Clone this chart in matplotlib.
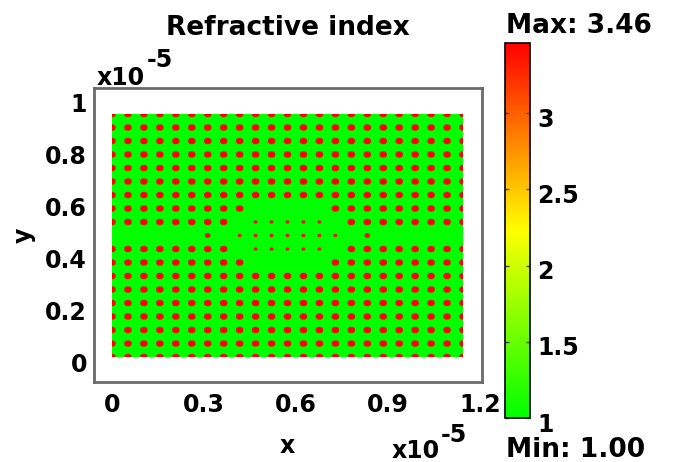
import numpy as np
import matplotlib
matplotlib.use("Agg")
import matplotlib.pyplot as plt
from matplotlib.colors import LinearSegmentedColormap
from matplotlib.transforms import ScaledTranslation

# ---------------- data ----------------
lattice_const_um = 0.52          # square lattice constant (micrometres)
n_cols = 23                      # rods along x
n_rows = 19                      # rods along y
rod_radius_um = 0.125
small_radius_um = 0.065
medium_radius_um = 0.09
n_background = 1.00
n_rod = 3.46

# defects, rows counted from the top of the picture
missing_rods = {
    7: [9, 10, 11, 12, 13],
    8: [8, 14],
    9: [0, 1, 2, 3, 4, 5, 7, 15, 17, 18, 19, 20, 21, 22],
    10: [8, 14],
    11: [9, 10, 11, 12, 13],
}
small_rods = {
    8: [9, 10, 11, 12, 13],
    9: [8, 9, 10, 11, 12, 13, 14],
    10: [9, 10, 11, 12, 13],
}
medium_rods = {9: [6, 16]}

x_ticks = [0, 0.3, 0.6, 0.9, 1.2]
x_ticklabels = ["0", "0.3", "0.6", "0.9", "1.2"]
y_ticks = [0, 0.2, 0.4, 0.6, 0.8, 1.0]
y_ticklabels = ["0", "0.2", "0.4", "0.6", "0.8", "1"]
cbar_ticks = [1, 1.5, 2, 2.5, 3]
cbar_ticklabels = ["1", "1.5", "2", "2.5", "3"]

# ---------------- index map ----------------
res = 0.01
W = (n_cols - 1) * lattice_const_um
H = (n_rows - 1) * lattice_const_um
xs = np.arange(res / 2, W, res)
ys = np.arange(res / 2, H, res)
nmap = np.full((len(ys), len(xs)), n_background)

for row in range(n_rows):
    for col in range(n_cols):
        if col in missing_rods.get(row, []):
            continue
        r = rod_radius_um
        if col in small_rods.get(row, []):
            r = small_radius_um
        elif col in medium_rods.get(row, []):
            r = medium_radius_um
        cx = col * lattice_const_um
        cy = H - row * lattice_const_um
        ix = np.where(np.abs(xs - cx) <= r)[0]
        iy = np.where(np.abs(ys - cy) <= r)[0]
        if len(ix) == 0 or len(iy) == 0:
            continue
        X, Y = np.meshgrid(xs[ix], ys[iy])
        mask = (X - cx) ** 2 + (Y - cy) ** 2 <= r ** 2
        sub = nmap[iy[0]:iy[-1] + 1, ix[0]:ix[-1] + 1]
        sub[mask] = n_rod

cmap = LinearSegmentedColormap.from_list("gyr", ["#00ff00", "#ffff00", "#ff0000"])

# ---------------- figure ----------------
FW, FH = 681, 462
fig = plt.figure(figsize=(FW / 100, FH / 100), dpi=100)
plt.rcParams["font.family"] = ["DejaVu Sans"]
plt.rcParams["font.weight"] = "bold"

ax = fig.add_axes([94 / FW, 1 - 382 / FH, (482 - 94) / FW, (382 - 88) / FH])
unit = 10.0  # micrometres per 1e-5 m
im = ax.imshow(nmap, origin="lower", cmap=cmap, vmin=n_background, vmax=n_rod,
               extent=[0, W / unit, 0, H / unit], interpolation="antialiased",
               interpolation_stage="rgba", aspect="auto")

px_x = 306.5   # pixels per 1e-5 m along x
px_y = 259.6   # pixels per 1e-5 m along y
ax.set_xlim((94 - 112) / px_x, (482 - 112) / px_x)
ax.set_ylim((357 - 382) / px_y, (357 - 88) / px_y)

ax.set_xticks(x_ticks)
ax.set_xticklabels(x_ticklabels, fontsize=17, fontweight="bold")
ax.set_yticks(y_ticks)
ax.set_yticklabels(y_ticklabels, fontsize=17, fontweight="bold")
ax.tick_params(axis="x", length=0, pad=8)
ax.tick_params(axis="y", length=0, pad=5)
off = ScaledTranslation(0, -0.05, fig.dpi_scale_trans)
for lab in ax.get_yticklabels():
    lab.set_transform(lab.get_transform() + off)
for sp in ax.spines.values():
    sp.set_color("#6a6a6a")
    sp.set_linewidth(2)

# colorbar
cax = fig.add_axes([505 / FW, 1 - 418 / FH, (530 - 505) / FW, (418 - 43) / FH])
cb = fig.colorbar(im, cax=cax, ticks=cbar_ticks)
cb.set_ticklabels(cbar_ticklabels)
cb.outline.set_linewidth(1.2)
cb.outline.set_edgecolor("black")
cax.tick_params(axis="y", which="both", direction="in", length=3, width=1,
                color="#444444", left=True, right=True, labelsize=17, pad=5)
for lab in cax.get_yticklabels():
    lab.set_fontweight("bold")
    lab.set_transform(lab.get_transform() + ScaledTranslation(0, -0.04, fig.dpi_scale_trans))

def ftext(px, py, s, **kw):
    fig.text(px / FW, 1 - py / FH, s, fontweight="bold", **kw)

ftext(288, 35, "Refractive index", fontsize=19, ha="center", va="baseline")
ftext(506, 33, "Max: 3.46", fontsize=19, ha="left", va="baseline")
ftext(506, 457, "Min: 1.00", fontsize=19, ha="left", va="baseline")
ftext(97, 85, "x10", fontsize=17, ha="left", va="baseline")
ftext(147, 67, "-5", fontsize=17, ha="left", va="baseline")
ftext(392, 458, "x10", fontsize=17, ha="left", va="baseline")
ftext(441, 442, "-5", fontsize=17, ha="left", va="baseline")
ftext(287, 453, "x", fontsize=17, ha="center", va="baseline")
ftext(24, 235, "y", fontsize=17, ha="center", va="center", rotation=90)

fig.savefig("out.png", dpi=100)
